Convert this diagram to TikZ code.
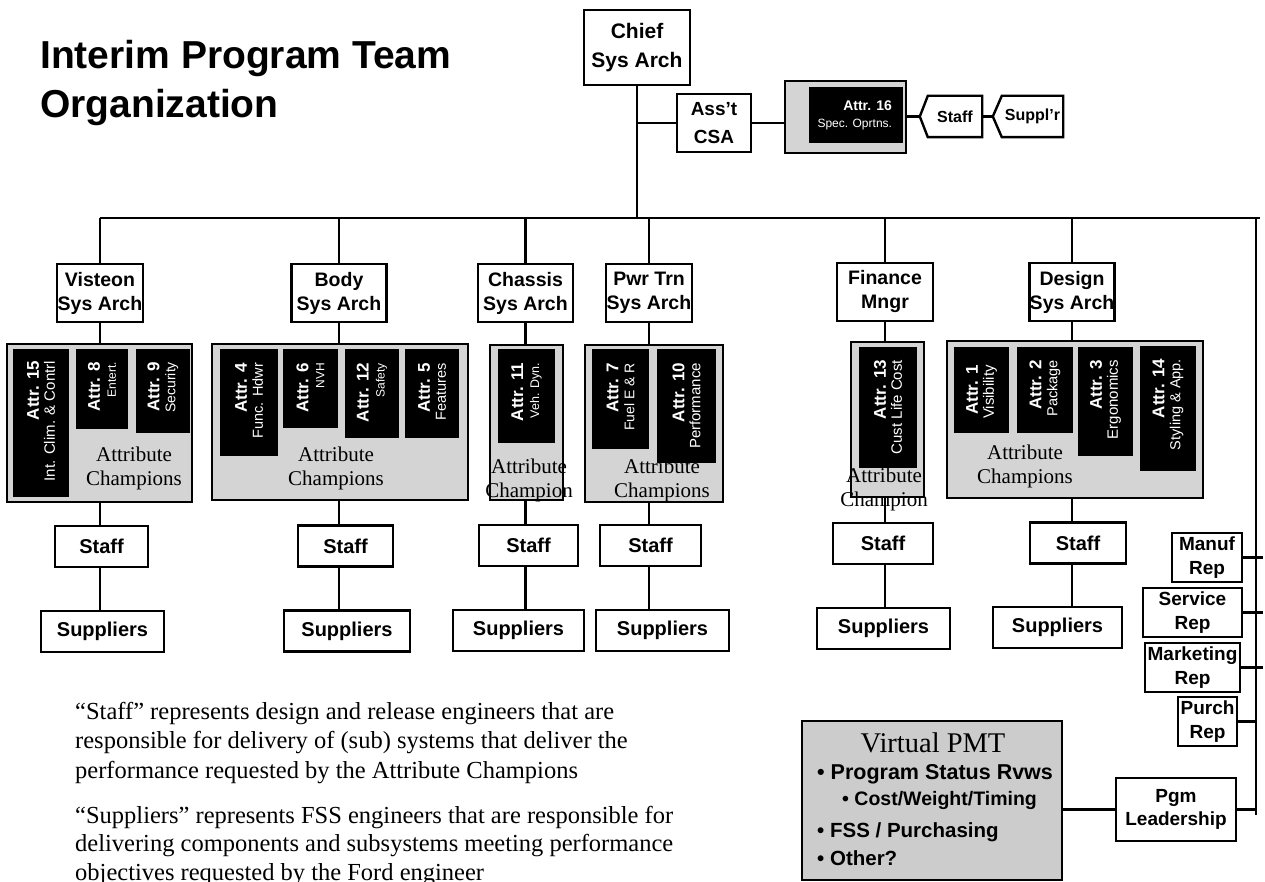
\documentclass[tikz,border=0pt]{standalone}
\usepackage{fontspec}
\setmainfont{Liberation Serif}
\setsansfont{Liberation Sans}
\newcommand\fsz[2]{\fontsize{#1}{#2}\selectfont}
\begin{document}
\begin{tikzpicture}[x=1pt,y=-1pt,
  lw/.style={line width=2.4pt},
  box/.style={draw, line width=2.4pt, fill=white, inner sep=0pt, align=center},
  sz/.style n args={2}{minimum width=#1pt, minimum height=#2pt},
  sysbox/.style={box, font=\sffamily\bfseries\fsz{19.5}{24}, minimum height=58pt},
  staffbox/.style={box, font=\sffamily\bfseries\fsz{20}{24}, minimum height=41pt},
  repbox/.style={box, font=\sffamily\bfseries\fsz{19}{24}, minimum height=49pt},
  grp/.style={draw, line width=2.4pt, fill=black!17, inner sep=0pt},
  attr/.style={fill=black, inner sep=0pt},
  atext/.style={text=white, rotate=90, anchor=east, align=right, inner sep=0pt, font=\sffamily\fsz{15}{16}},
  champ/.style={align=center, inner sep=0pt, font=\rmfamily\fsz{21}{24}},
  every node/.append style={inner sep=0pt}
]
\useasboundingbox (0,0) rectangle (1265,882);

% title
\node[anchor=north west, align=left, font=\sffamily\bfseries\fsz{39}{49}] (title) at (40,40) {Interim Program Team\\Organization};

% top
\node[box, sz={106}{75}, font=\sffamily\bfseries\fsz{21}{29}] (chief) at (637,47.5) {Chief\\Sys Arch};
\node[box, sz={74}{58}, font=\sffamily\bfseries\fsz{19}{28}] (csa) at (714,123) {Ass’t\\CSA};
\node[grp, sz={121}{72}] (a16g) at (845.5,117) {};
\node[attr, sz={94}{56}] (a16) at (856,115) {};
\node[text=white, anchor=east, align=right, font=\sffamily\fsz{12}{17}] (t16) at ([xshift=-11pt]a16.east) {{\bfseries\fsz{14}{17}Attr. 16}\\{\fsz{12}{17}Spec. Oprtns.}};
\node[sz={54}{41}, font=\sffamily\bfseries\fsz{16}{18}] (staff16) at (955,116.5) {Staff};
\draw[lw, line join=miter] (staff16.north west) -- (staff16.north east) -- (staff16.south east) -- (staff16.south west) -- ([xshift=-8pt]staff16.west) -- cycle;
\coordinate (staff16tip) at ([xshift=-8pt]staff16.west);
\node[sz={61}{41}, font=\sffamily\bfseries\fsz{16}{18}] (supp16) at (1032.5,116.5) {Suppl’r};
\draw[lw, line join=miter] (supp16.north west) -- (supp16.north east) -- (supp16.south east) -- (supp16.south west) -- ([xshift=-9pt]supp16.west) -- cycle;
\coordinate (supp16tip) at ([xshift=-9pt]supp16.west);

\coordinate (bus) at (0,218);
\coordinate (busR) at (1260,218);
\coordinate (rvT) at (1256,218);
\coordinate (rvB) at (1256,815);
\coordinate (edge) at (1263,0);

\draw[lw] (chief.south) -- (chief.south |- bus);
\draw[lw] (csa.west) -- (csa.west -| chief.south);
\draw[lw] (csa.east) -- (csa.east -| a16g.west);
\draw[lw] (a16g.east |- staff16tip) -- (staff16tip);
\draw[lw] (staff16.east) -- (supp16tip);

% system architect boxes
\node[sysbox, minimum width=86pt] (vis) at (100,293) {Visteon\\Sys Arch};
\node[sysbox, minimum width=95pt] (body) at (339,293) {Body\\Sys Arch};
\node[sysbox, minimum width=95pt] (chas) at (525.5,293) {Chassis\\Sys Arch};
\node[sysbox, minimum width=86pt] (pwr) at (649,293) {Pwr Trn\\Sys Arch};
\node[sysbox, minimum width=96pt] (fin) at (885,292) {Finance\\Mngr};
\node[sysbox, minimum width=85pt] (des) at (1072,292) {Design\\Sys Arch};

\draw[lw] (vis.north |- bus) -- (busR);
\draw[lw] (rvT) -- (rvB);
\foreach \n in {vis,body,chas,pwr,fin,des} {\draw[lw] (\n.north) -- (\n.north |- bus);}

% groups
\node[grp, sz={185}{158}] (visG) at (99.5,423) {};
\node[grp, sz={256}{156}] (bodyG) at (340,422) {};
\node[grp, sz={73}{155}] (chasG) at (526.5,422.5) {};
\node[grp, sz={138}{157}] (pwrG) at (654,423.5) {};
\node[grp, sz={73}{155}] (finG) at (887.5,419.5) {};
\node[grp, sz={256}{157}] (desG) at (1075,419.5) {};

\node[champ] (ch1) at (134,468.5) {Attribute\\Champions};
\node[champ] (ch2) at (336,468.5) {Attribute\\Champions};
\node[champ] (ch3) at (529,480.5) {Attribute\\Champion};
\node[champ] (ch4) at (662,480.5) {Attribute\\Champions};
\node[champ] (ch5) at (884,489.5) {Attribute\\Champion};
\node[champ] (ch6) at (1025,466.5) {Attribute\\Champions};

% attribute boxes
\node[attr, sz={56}{148}] (a15) at (41,423) {};
\node[attr, sz={52}{80}] (a8) at (102,389) {};
\node[attr, sz={54}{84}] (a9) at (163,391) {};
\node[attr, sz={58}{107}] (a4) at (249,402.5) {};
\node[attr, sz={55}{79}] (a6) at (310.5,388.5) {};
\node[attr, sz={54}{89}] (a12) at (372,393.5) {};
\node[attr, sz={54}{89}] (a5) at (432,393.5) {};
\node[attr, sz={57}{94}] (a11) at (526.5,396) {};
\node[attr, sz={57}{100}] (a7) at (620.5,399) {};
\node[attr, sz={59}{114}] (a10) at (686.5,406) {};
\node[attr, sz={58}{121}] (a13) at (888,407.5) {};
\node[attr, sz={55}{86}] (a1) at (981.5,390) {};
\node[attr, sz={56}{86}] (a2) at (1045,390) {};
\node[attr, sz={55}{109}] (a3) at (1105.5,401.5) {};
\node[attr, sz={56}{125}] (a14) at (1168,408.5) {};

\node[atext] (t15) at ([yshift=-12pt]a15.north) {{\bfseries\fsz{17}{16}Attr. 15}\\{\fsz{15}{16}Int. Clim. \& Contrl}};
\node[atext] (t8) at ([yshift=-13pt]a8.north) {{\bfseries\fsz{17}{16}Attr. 8}\\{\fsz{12}{16}Entert.}};
\node[atext] (t9) at ([yshift=-13pt]a9.north) {{\bfseries\fsz{17}{16}Attr. 9}\\{\fsz{14}{16}Security}};
\node[atext] (t4) at ([yshift=-14pt]a4.north) {{\bfseries\fsz{17}{16}Attr. 4}\\{\fsz{14.5}{16}Func. Hdwr}};
\node[atext] (t6) at ([yshift=-14pt]a6.north) {{\bfseries\fsz{17}{16}Attr. 6}\\{\fsz{12}{16}NVH}};
\node[atext] (t12) at ([yshift=-14pt]a12.north) {{\bfseries\fsz{17}{16}Attr. 12}\\{\fsz{12}{16}Safety}};
\node[atext] (t5) at ([yshift=-14pt]a5.north) {{\bfseries\fsz{17}{16}Attr. 5}\\{\fsz{14.5}{16}Features}};
\node[atext] (t11) at ([yshift=-14pt]a11.north) {{\bfseries\fsz{17}{16}Attr. 11}\\{\fsz{12.5}{16}Veh. Dyn.}};
\node[atext] (t7) at ([yshift=-14pt]a7.north) {{\bfseries\fsz{17}{16}Attr. 7}\\{\fsz{14}{16}Fuel E \& R}};
\node[atext] (t10) at ([yshift=-14pt]a10.north) {{\bfseries\fsz{17}{16}Attr. 10}\\{\fsz{15}{16}Performance}};
\node[atext] (t13) at ([yshift=-13pt]a13.north) {{\bfseries\fsz{17}{16}Attr. 13}\\{\fsz{15}{16}Cust Life Cost}};
\node[atext] (t1) at ([yshift=-18pt]a1.north) {{\bfseries\fsz{17}{16}Attr. 1}\\{\fsz{15}{16}Visibility}};
\node[atext] (t2) at ([yshift=-13pt]a2.north) {{\bfseries\fsz{17}{16}Attr. 2}\\{\fsz{14.5}{16}Package}};
\node[atext] (t3) at ([yshift=-13pt]a3.north) {{\bfseries\fsz{17}{16}Attr. 3}\\{\fsz{15}{16}Ergonomics}};
\node[atext] (t14) at ([yshift=-13pt]a14.north) {{\bfseries\fsz{17}{16}Attr. 14}\\{\fsz{14.5}{16}Styling \& App.}};

% staff and suppliers
\node[staffbox, minimum width=93pt] (visS) at (101.5,546.5) {Staff};
\node[staffbox, minimum width=123pt] (visP) at (102.5,631.5) {Suppliers};
\node[staffbox, minimum width=95pt] (bodyS) at (345.5,546) {Staff};
\node[staffbox, minimum width=126pt] (bodyP) at (347,631) {Suppliers};
\node[staffbox, minimum width=99pt] (chasS) at (528.5,545.5) {Staff};
\node[staffbox, minimum width=131pt] (chasP) at (518.5,630.5) {Suppliers};
\node[staffbox, minimum width=101pt] (pwrS) at (650.5,545.5) {Staff};
\node[staffbox, minimum width=133pt] (pwrP) at (662.5,630.5) {Suppliers};
\node[staffbox, minimum width=100pt] (finS) at (883,543.5) {Staff};
\node[staffbox, minimum width=133pt] (finP) at (883.5,628.5) {Suppliers};
\node[staffbox, minimum width=96pt] (desS) at (1078,543) {Staff};
\node[staffbox, minimum width=129pt] (desP) at (1057.5,627.5) {Suppliers};

\foreach \n in {vis,body,chas,pwr,fin,des} {
  \draw[lw] (\n.south) -- (\n.south |- \n G.north);
  \draw[lw] (\n.south |- \n G.south) -- (\n.south |- \n S.north);
  \draw[lw] (\n.south |- \n S.south) -- (\n.south |- \n P.north);
}

% right side
\node[repbox, minimum width=70pt] (manuf) at (1207,557.5) {Manuf\\Rep};
\node[repbox, minimum width=99pt] (serv) at (1192.5,612.5) {Service\\Rep};
\node[repbox, minimum width=95pt] (mark) at (1192.5,667.5) {Marketing\\Rep};
\node[repbox, minimum width=59pt] (purch) at (1207.5,721.5) {Purch\\Rep};
\node[box, sz={120}{63}, font=\sffamily\bfseries\fsz{19}{23}] (pgm) at (1176,809.5) {Pgm\\Leadership};
\draw[lw] (manuf.east) -- (manuf.east -| edge);
\draw[lw] (serv.east) -- (serv.east -| edge);
\draw[lw] (mark.east) -- (mark.east -| edge);
\draw[lw] (purch.east) -- (purch.east -| rvT);
\draw[lw] (pgm.east) -- (pgm.east -| rvT);

% virtual PMT
\node[grp, fill=black!20, sz={260}{159}] (pmt) at (932,800.5) {};
\node[font=\rmfamily\fsz{28.5}{30}] (pmtT) at (933,743) {Virtual PMT};
\node[anchor=west, font=\sffamily\bfseries\fsz{21.5}{24}] (pmt1) at (817,774) {• Program Status Rvws};
\node[anchor=west, font=\sffamily\bfseries\fsz{19.5}{24}] (pmt2) at (842,800) {• Cost/Weight/Timing};
\node[anchor=west, font=\sffamily\bfseries\fsz{20.5}{24}] (pmt3) at (817,832) {• FSS / Purchasing};
\node[anchor=west, font=\sffamily\bfseries\fsz{20.5}{24}] (pmt4) at (817,858) {• Other?};
\draw[lw] (pgm.west -| pmt.east) -- (pgm.west);

% notes
\node[anchor=north west, align=left, font=\rmfamily\fsz{24.5}{29.5}] (note1) at (75,702) {“Staff” represents design and release engineers that are\\responsible for delivery of (sub) systems that deliver the\\performance requested by the Attribute Champions};
\node[anchor=north west, align=left, font=\rmfamily\fsz{24.5}{28.5}] (note2) at (75,806) {“Suppliers” represents FSS engineers that are responsible for\\delivering components and subsystems meeting performance\\objectives requested by the Ford engineer};
\end{tikzpicture}
\end{document}
